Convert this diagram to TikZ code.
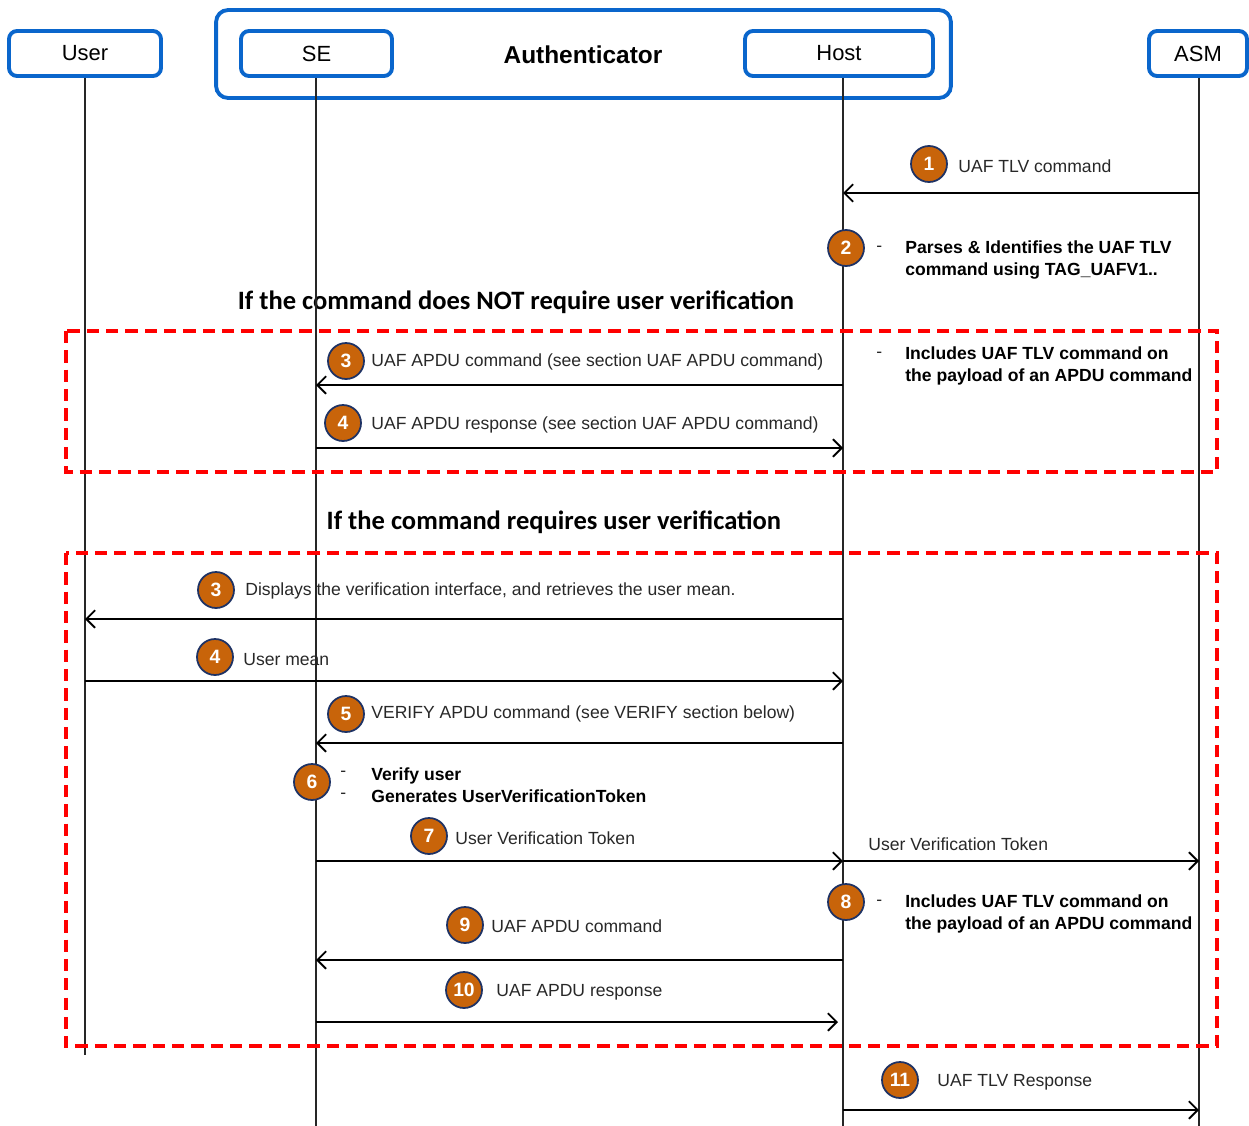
\documentclass[tikz,border=0pt]{standalone}
\usepackage{fontspec}
\setmainfont{Liberation Sans}
\newfontfamily\headfont{Carlito}
\usetikzlibrary{arrows.meta}
\definecolor{boxblue}{RGB}{10,102,204}
\definecolor{circorange}{RGB}{200,100,10}
\definecolor{circedge}{RGB}{30,50,100}
\definecolor{txt}{RGB}{40,40,40}
\begin{document}
\begin{tikzpicture}[x=0.02cm,y=-0.02cm,
  actor/.style={draw=boxblue, line width=2.2pt, rounded corners=0.16cm, minimum height=0.9cm, inner sep=0pt, font=\fontsize{12.5}{14}\selectfont},
  life/.style={line width=1.1pt, draw=black!85},
  msg/.style={line width=1.1pt, -{Straight Barb[length=5pt,width=10pt,line width=1.1pt]}},
  num/.style={circle, fill=circorange, draw=circedge, line width=1pt, minimum size=0.72cm, inner sep=0pt, text=white, font=\bfseries\fontsize{11}{12}\selectfont},
  lbl/.style={anchor=west, inner sep=0pt, text=txt, font=\fontsize{10}{11}\selectfont},
  note/.style={anchor=west, inner sep=0pt, align=left, font=\bfseries\fontsize{10}{12.5}\selectfont},
  dashmark/.style={anchor=west, inner sep=0pt, align=left, text=txt, font=\fontsize{10}{12.5}\selectfont},
  head/.style={inner sep=0pt, font=\headfont\bfseries\fontsize{15.1}{17}\selectfont},
  frame/.style={draw=red, line width=2pt, dash pattern=on 7pt off 4pt}]
\useasboundingbox (0,0) rectangle (1249,1126);
% lifeline x positions
\coordinate (xU) at (85,0);
\coordinate (xS) at (316,0);
\coordinate (xH) at (843,0);
\coordinate (xA) at (1199,0);
% actors
\node[draw=boxblue, line width=2.2pt, rounded corners=0.24cm, minimum width=14.7cm, minimum height=1.76cm] (auth) at (583.5,54) {};
\node[font=\bfseries\fontsize{13.9}{16}\selectfont] (authlbl) at (583,55) {Authenticator};
\node[actor, minimum width=3.04cm] (user) at (85,53.5) {User};
\node[actor, minimum width=3.02cm] (se) at (316.5,53.5) {SE};
\node[actor, minimum width=3.76cm] (host) at (839,53.5) {Host};
\node[actor, minimum width=1.96cm] (asm) at (1198,53.5) {ASM};
% texts
\node[lbl] (t1) at (958,166) {UAF TLV command};
\node[dashmark] (d2) at (876,249) {-};
\node[note] (t2) at (905,260) {Parses \& Identifies the UAF TLV\\command using TAG\_UAFV1..};
\node[head] (h1) at (516,302) {If the command does NOT require user verification};
\node[lbl] (t3a) at (371,362) {UAF APDU command (see section UAF APDU command)};
\node[dashmark] (d3a) at (876,355) {-};
\node[note] (t3b) at (905,366) {Includes UAF TLV command on\\the payload of an APDU command};
\node[lbl] (t4a) at (371,425) {UAF APDU response (see section UAF APDU command)};
\node[head] (h2) at (554,522) {If the command requires user verification};
\node[lbl] (t3) at (245,591) {Displays the verification interface, and retrieves the user mean.};
\node[lbl] (t4) at (243,660) {User mean};
\node[lbl] (t5) at (371,714) {VERIFY APDU command (see VERIFY section below)};
\node[dashmark] (d6) at (340,785) {-\\-};
\node[note] (t6) at (371,785) {Verify user\\Generates UserVerificationToken};
\node[lbl] (t7) at (455,838) {User Verification Token};
\node[lbl] (t7b) at (868,844) {User Verification Token};
\node[dashmark] (d8) at (876,903) {-};
\node[note] (t8) at (905,914) {Includes UAF TLV command on\\the payload of an APDU command};
\node[lbl] (t9) at (491,926) {UAF APDU command};
\node[lbl] (t10) at (496,992) {UAF APDU response};
\node[lbl] (t11) at (937,1082) {UAF TLV Response};
% lifelines
\draw[life] (xU |- user.south) -- (xU |- 0,1055);
\draw[life] (xS |- se.south) -- (xS |- 0,1126);
\draw[life] (xH |- host.south) -- (xH |- 0,1126);
\draw[life] (xA |- asm.south) -- (xA |- 0,1126);
% frames
\draw[frame] (66,331) rectangle (1217,472);
\draw[frame] (66,553) rectangle (1217,1046);
% messages
\draw[msg] (xA |- 0,193) -- (xH |- 0,193);
\draw[msg] (xH |- 0,385) -- (xS |- 0,385);
\draw[msg] (xS |- 0,448) -- (xH |- 0,448);
\draw[msg] (xH |- 0,619) -- (xU |- 0,619);
\draw[msg] (xU |- 0,681) -- (xH |- 0,681);
\draw[msg] (xH |- 0,743) -- (xS |- 0,743);
\draw[msg] (xS |- 0,861) -- (xH |- 0,861);
\draw[msg] (xH |- 0,861) -- (xA |- 0,861);
\draw[msg] (xH |- 0,960) -- (xS |- 0,960);
\draw[msg, shorten >=5*0.02cm] (xS |- 0,1022) -- (xH |- 0,1022);
\draw[msg] (xH |- 0,1110) -- (xA |- 0,1110);
% step numbers
\node[num] (n1) at (929,164) {1};
\node[num] (n2) at (846,248) {2};
\node[num] (n3a) at (346,361) {3};
\node[num] (n4a) at (343,423) {4};
\node[num] (n3) at (216,590) {3};
\node[num] (n4) at (215,657) {4};
\node[num] (n5) at (346,714) {5};
\node[num] (n6) at (312,782) {6};
\node[num] (n7) at (429,836) {7};
\node[num] (n8) at (846,902) {8};
\node[num] (n9) at (465,925) {9};
\node[num] (n10) at (464,990) {10};
\node[num] (n11) at (900,1080) {11};
\end{tikzpicture}
\end{document}
